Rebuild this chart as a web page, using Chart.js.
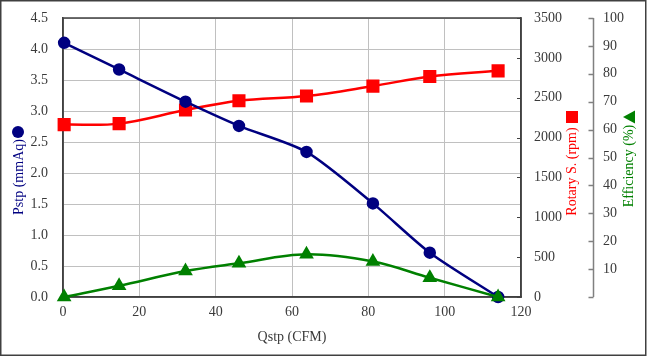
<!DOCTYPE html>
<html><head><meta charset="utf-8">
<script src="https://cdn.jsdelivr.net/npm/chart.js@4/dist/chart.umd.min.js"></script>
<style>html,body{margin:0;padding:0;background:#fff}canvas{display:block}</style>
</head><body>
<canvas id="c" width="647" height="356"></canvas>
<script>
// ---- data ----
const qstp = [0.3, 14.7, 32.1, 46.1, 63.8, 81.2, 96.1, 114];
const pstp = [4.10, 3.67, 3.15, 2.76, 2.34, 1.51, 0.715, 0];
const rotary = [2162, 2175, 2346, 2462, 2521, 2646, 2766, 2837];
const efficiency = [0, 4.0, 9.3, 12.1, 15.3, 12.7, 6.9, 0];

const xRange = [0, 120, 20];
const pstpRange = [0, 4.5, 0.5];
const rotaryRange = [0, 3500, 500];
const effRange = [0, 100, 10];

const xTitle = 'Qstp (CFM)';
const pstpTitle = 'Pstp (mmAq)';
const rotaryTitle = 'Rotary S. (rpm)';
const effTitle = 'Efficiency (%)';

const NAVY = '#000080', RED = '#ff0000', GREEN = '#008000';
const FONT = "'Liberation Serif', 'Times New Roman', serif";
const TICKCOL = '#3a3a3a';

function pts(ys){ return qstp.map((x,i)=>({x:x, y:ys[i]})); }

function vtext(ctx, text, x, y, color){
  ctx.save(); ctx.translate(x,y); ctx.rotate(-Math.PI/2);
  ctx.fillStyle=color; ctx.font = '14px ' + FONT;
  ctx.textAlign='center'; ctx.textBaseline='middle';
  ctx.fillText(text,0,0); ctx.restore();
}

function fixV(w){ return function(s){ s.width = w; s.paddingTop = 0; s.paddingBottom = 0; }; }

const deco = {
  id:'deco',
  beforeDatasetsDraw(chart){
    const {ctx, chartArea:a, scales} = chart;
    ctx.save();
    ctx.strokeStyle='#404040'; ctx.lineWidth=1.5;
    ctx.strokeRect(a.left, a.top, a.right-a.left, a.bottom-a.top);
    const y1 = scales.y1;
    ctx.lineWidth=1;
    ctx.beginPath();
    y1.ticks.forEach(t=>{
      const y=Math.round(y1.getPixelForValue(t.value))+0.5;
      ctx.moveTo(a.right-4,y); ctx.lineTo(a.right,y);
    });
    ctx.stroke();
    const y2 = scales.y2; const x = y2.left + 0.5;
    ctx.strokeStyle='#808080'; ctx.lineWidth=1.5;
    ctx.beginPath();
    ctx.moveTo(x, y2.getPixelForValue(effRange[1])); ctx.lineTo(x, y2.getPixelForValue(effRange[0]));
    y2.ticks.forEach(t=>{
      const y=Math.round(y2.getPixelForValue(t.value))+0.5;
      ctx.moveTo(x-5,y); ctx.lineTo(x,y);
    });
    ctx.stroke();
    ctx.restore();
  },
  afterDraw(chart){
    const ctx = chart.ctx;
    ctx.save();
    vtext(ctx, pstpTitle, 19, 177, NAVY);
    ctx.fillStyle = NAVY; ctx.beginPath(); ctx.arc(18, 132, 6, 0, Math.PI*2); ctx.fill();
    vtext(ctx, rotaryTitle, 572, 171.5, RED);
    ctx.fillStyle = RED; ctx.fillRect(566, 111, 12, 12);
    vtext(ctx, effTitle, 629, 166, GREEN);
    ctx.fillStyle = GREEN; ctx.beginPath(); ctx.moveTo(623, 117); ctx.lineTo(635, 110.5); ctx.lineTo(635, 123.5); ctx.closePath(); ctx.fill();
    ctx.strokeStyle = '#404040'; ctx.lineWidth = 1.5;
    ctx.strokeRect(0.75, 0.75, 645, 354.5);
    ctx.restore();
  }
};

new Chart(document.getElementById('c'), {
  type:'line',
  data:{ datasets:[
    { label:'Pstp', data:pts(pstp), yAxisID:'y', borderColor:NAVY, backgroundColor:NAVY,
      borderWidth:2.5, pointStyle:'circle', pointRadius:5, pointHoverRadius:5, tension:0.25, clip:false, order:2 },
    { label:'Rotary S.', data:pts(rotary), yAxisID:'y1', borderColor:RED, backgroundColor:RED,
      borderWidth:2.5, pointStyle:'rect', pointRadius:7.5, pointHoverRadius:7.5, tension:0.35, clip:false, order:3 },
    { label:'Efficiency', data:pts(efficiency), yAxisID:'y2', borderColor:GREEN, backgroundColor:GREEN,
      borderWidth:2.5, pointStyle:'triangle', pointRadius:6, pointHoverRadius:6, tension:0.35, clip:false, order:1 }
  ]},
  options:{
    responsive:false, devicePixelRatio:1, animation:false,
    layout:{ padding:{ top:18, left:0, right:0, bottom:0 } },
    plugins:{ legend:{display:false}, tooltip:{enabled:false} },
    scales:{
      x:{ type:'linear', min:xRange[0], max:xRange[1],
        ticks:{ stepSize:xRange[2], color:TICKCOL, font:{family:FONT, size:14}, padding:7, callback:v=>String(v) },
        grid:{ color:'#c0c0c0', drawTicks:false, lineWidth:1 },
        border:{ color:'#404040', width:1.5 },
        title:{ display:true, text:xTitle, color:TICKCOL, font:{family:FONT, size:14}, padding:{top:0,bottom:10} },
        afterFit(s){ s.height = 59; s.paddingLeft = 0; s.paddingRight = 0; } },
      y:{ position:'left', min:pstpRange[0], max:pstpRange[1],
        ticks:{ stepSize:pstpRange[2], color:TICKCOL, font:{family:FONT, size:14}, padding:15,
          callback:v=>Number(v).toFixed(1) },
        grid:{ color:'#c0c0c0', drawTicks:false },
        border:{ color:'#404040', width:1.5 },
        afterFit: fixV(63) },
      y1:{ position:'right', min:rotaryRange[0], max:rotaryRange[1],
        ticks:{ stepSize:rotaryRange[2], color:TICKCOL, font:{family:FONT, size:14}, padding:13, callback:v=>String(v) },
        grid:{ drawOnChartArea:false, drawTicks:false },
        border:{ color:'#404040', width:1.5 },
        afterFit: fixV(72) },
      y2:{ position:'right', min:effRange[0], max:effRange[1],
        ticks:{ stepSize:effRange[2], color:TICKCOL, font:{family:FONT, size:14}, padding:10,
          callback:v=> v===0 ? '' : String(v) },
        grid:{ display:false, drawTicks:false },
        border:{ display:false },
        afterFit: fixV(54) }
    }
  },
  plugins:[deco]
});
</script>
</body></html>
